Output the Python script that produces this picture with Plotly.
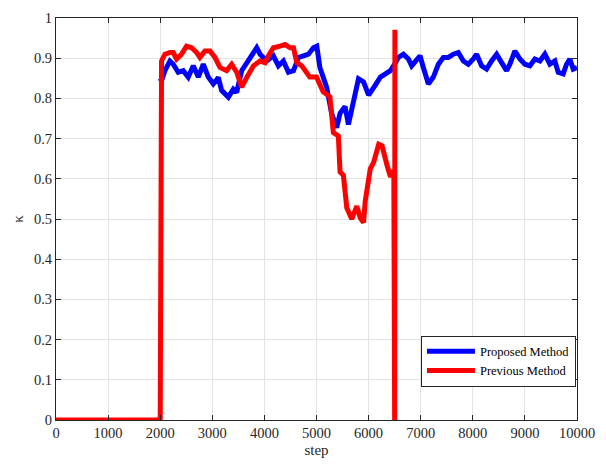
import plotly.graph_objects as go

# Proposed Method (blue)
blue_step = [2000, 2026, 2090, 2186, 2250, 2346, 2442, 2538, 2635, 2731, 2827, 2923, 3019, 3115, 3179,
             3308, 3404, 3468, 3564, 3692, 3853, 3917, 4045, 4173, 4269, 4365, 4461, 4558, 4654,
             4750, 4846, 4942, 5006, 5065, 5194, 5290, 5387, 5452, 5548, 5613, 5710, 5806, 5903,
             6000, 6129, 6226, 6323, 6419, 6500, 6572, 6668, 6764, 6827, 6891, 6987, 7051, 7147,
             7243, 7339, 7435, 7530, 7626, 7722, 7818, 7914, 8010, 8073, 8169, 8265, 8361, 8457,
             8553, 8649, 8712, 8808, 8904, 9000, 9096, 9192, 9288, 9383, 9479, 9575, 9639, 9735,
             9799, 9863, 9927, 10000]
blue_kappa = [0.85, 0.844, 0.869, 0.893, 0.885, 0.865, 0.869, 0.853, 0.881, 0.853, 0.885, 0.853, 0.836,
              0.852, 0.82, 0.803, 0.823, 0.815, 0.869, 0.893, 0.926, 0.91, 0.893, 0.906, 0.881, 0.893,
              0.865, 0.869, 0.902, 0.906, 0.91, 0.926, 0.93, 0.877, 0.828, 0.763, 0.727, 0.763, 0.78,
              0.735, 0.796, 0.849, 0.841, 0.808, 0.833, 0.853, 0.861, 0.869, 0.885, 0.902, 0.91, 0.898,
              0.881, 0.893, 0.906, 0.877, 0.836, 0.853, 0.885, 0.902, 0.902, 0.91, 0.914, 0.893, 0.885,
              0.898, 0.91, 0.881, 0.873, 0.893, 0.91, 0.889, 0.869, 0.885, 0.918, 0.898, 0.885, 0.881,
              0.898, 0.893, 0.91, 0.885, 0.893, 0.865, 0.861, 0.885, 0.898, 0.873, 0.877]

# Previous Method (red)
red_step = [0, 1990, 2000, 2026, 2090, 2186, 2250, 2314, 2410, 2506, 2603, 2699, 2763, 2859, 2955,
            3051, 3147, 3275, 3372, 3468, 3564, 3660, 3789, 3917, 4013, 4077, 4173, 4301, 4397, 4494,
            4558, 4622, 4718, 4871, 5000, 5129, 5258, 5323, 5419, 5452, 5516, 5581, 5677, 5774, 5839,
            5903, 5935, 6032, 6097, 6194, 6258, 6355, 6419, 6484, 6500, 6505]
red_kappa = [0.0, 0.0, 0.0, 0.893, 0.91, 0.914, 0.914, 0.898, 0.91, 0.93, 0.926, 0.914, 0.902, 0.918,
             0.918, 0.902, 0.877, 0.869, 0.885, 0.865, 0.828, 0.852, 0.881, 0.893, 0.889, 0.906, 0.926,
             0.93, 0.934, 0.926, 0.926, 0.889, 0.881, 0.853, 0.853, 0.816, 0.804, 0.715, 0.707, 0.617,
             0.609, 0.528, 0.5, 0.532, 0.503, 0.491, 0.544, 0.625, 0.641, 0.686, 0.682, 0.633, 0.605,
             0.621, 0.0, 0.971]

x_ticks = list(range(0, 10001, 1000))
y_ticks = [round(i * 0.1, 1) for i in range(11)]
y_tick_text = ["0"] + [f"{v:g}" for v in y_ticks[1:-1]] + ["1"]

font_family = "Liberation Serif"
axis_color = "#262626"

fig = go.Figure()
fig.add_trace(go.Scatter(x=blue_step, y=blue_kappa, mode="lines", name="Proposed Method",
                         line=dict(color="#0000ff", width=5)))
fig.add_trace(go.Scatter(x=red_step, y=red_kappa, mode="lines", name="Previous Method",
                         line=dict(color="#ff0000", width=5)))

axis_common = dict(showline=True, linecolor=axis_color, linewidth=1, mirror="ticks",
                   ticks="inside", ticklen=5, tickcolor=axis_color,
                   showgrid=True, gridcolor="#e3e3e3", gridwidth=1, zeroline=False,
                   tickfont=dict(family=font_family, size=14.5, color=axis_color))

fig.update_xaxes(range=[0, 10000], tickvals=x_ticks, ticktext=[str(v) for v in x_ticks],
                 title=dict(text="step", font=dict(family=font_family, size=15, color=axis_color), standoff=4),
                 **axis_common)
fig.update_yaxes(range=[0, 1], tickvals=y_ticks, ticktext=y_tick_text,
                 title=dict(text="κ", font=dict(family=font_family, size=15, color=axis_color), standoff=6),
                 **axis_common)

fig.update_layout(
    width=606, height=466,
    margin=dict(l=56, r=29, t=10, b=46),
    plot_bgcolor="white", paper_bgcolor="white",
    font=dict(family=font_family, color=axis_color),
    legend=dict(x=0.998, y=0.083, xanchor="right", yanchor="bottom",
                bgcolor="white", bordercolor=axis_color, borderwidth=1,
                font=dict(family=font_family, size=12.5, color="black"),
                itemwidth=48, tracegroupgap=0),
    showlegend=True,
)

fig.write_html("out.html")
